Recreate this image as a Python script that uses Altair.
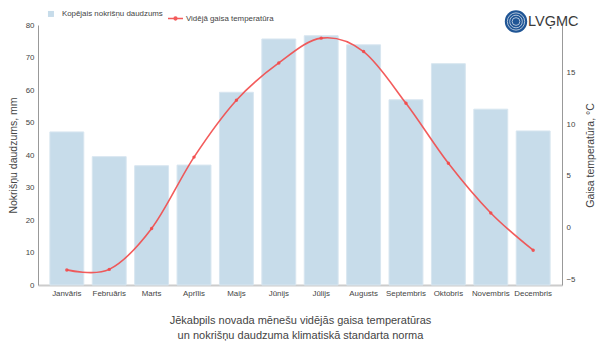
import altair as alt
import pandas as pd

months = ["Janvāris", "Februāris", "Marts", "Aprīlis", "Maijs", "Jūnijs",
          "Jūlijs", "Augusts", "Septembris", "Oktobris", "Novembris", "Decembris"]
precip = [47.1, 39.5, 36.7, 36.9, 59.3, 75.7, 76.7, 73.9, 57.0, 68.1, 54.1, 47.4]
temp = [-4.1, -4.05, -0.1, 6.8, 12.3, 15.9, 18.3, 17.0, 12.0, 6.2, 1.4, -2.2]

bar_name = "Kopējais nokrišņu daudzums"
line_name = "Vidējā gaisa temperatūra"
title_lines = ["Jēkabpils novada mēnešu vidējās gaisa temperatūras",
               "un nokrišņu daudzuma klimatiskā standarta norma"]

df = pd.DataFrame({"month": months, "precip": precip, "temp": temp})

FONT = "Liberation Sans"
TXT = "#444444"
RED = "#f24a4a"
LBL = 7.9

x_enc = alt.X("month:N", sort=months,
              scale=alt.Scale(paddingInner=0.2, paddingOuter=0.28),
              axis=alt.Axis(title=title_lines, labelAngle=0, labelFontSize=LBL, labelFont=FONT,
                            labelColor=TXT, labelPadding=4, ticks=False,
                            domainColor="#cccccc", domainWidth=2,
                            titleFontSize=11, titleFontWeight="normal", titleFont=FONT,
                            titleColor=TXT, titlePadding=18, titleLineHeight=15))

bars = alt.Chart(df).mark_bar(color="#c7dcea", stroke="#d8e6f0", strokeWidth=1).encode(
    x=x_enc,
    y=alt.Y("precip:Q", scale=alt.Scale(domain=[0, 80], nice=False),
            axis=alt.Axis(title="Nokrišņu daudzums, mm", values=[0, 10, 20, 30, 40, 50, 60, 70, 80],
                          grid=False, ticks=False, labelFontSize=LBL, labelColor=TXT, labelFont=FONT,
                          labelPadding=4, domainColor="#999999",
                          titleFontSize=10.5, titleFontWeight="normal", titleColor=TXT, titleFont=FONT,
                          titlePadding=7)),
    fill=alt.Fill("s:N", scale=alt.Scale(domain=[bar_name], range=["#c7dcea"]),
                  legend=alt.Legend(title=None, orient="none", legendX=9, legendY=-15,
                                    symbolType="square", symbolSize=36, symbolStrokeWidth=0,
                                    labelFontSize=LBL, labelColor=TXT, labelOffset=7,
                                    padding=0, labelFont=FONT)),
).transform_calculate(s=f"'{bar_name}'")

right_axis = alt.Axis(title="Gaisa temperatūra, °C", orient="right", values=[-5, 0, 5, 10, 15],
                      grid=False, ticks=False, labelFontSize=LBL, labelColor=TXT, labelFont=FONT,
                      labelPadding=4, domainColor="#999999", titleAngle=270,
                      titleFontSize=10.5, titleFontWeight="normal", titleColor=TXT, titleFont=FONT,
                      titlePadding=21)
t_scale = alt.Scale(domain=[-5.56, 19.57], nice=False, zero=False)

line = alt.Chart(df).mark_line(interpolate="cardinal", strokeWidth=1.6, opacity=0.9).encode(
    x=alt.X("month:N", sort=months),
    y=alt.Y("temp:Q", scale=t_scale, axis=right_axis),
    stroke=alt.Stroke("s:N", scale=alt.Scale(domain=[line_name], range=[RED]),
                      legend=alt.Legend(title=None, orient="none", legendX=129, legendY=-15,
                                        symbolType="M-1,0H1M-0.18,0A0.18,0.18,0,1,1,0.18,0A0.18,0.18,0,1,1,-0.18,0Z",
                                        symbolSize=225, symbolStrokeWidth=1.6,
                                        symbolFillColor=RED,
                                        labelFontSize=LBL, labelColor=TXT, labelOffset=2,
                                        padding=0, labelFont=FONT)),
).transform_calculate(s=f"'{line_name}'")

pts = alt.Chart(df).mark_point(filled=True, size=12, color=RED, opacity=0.9).encode(
    x=alt.X("month:N", sort=months),
    y=alt.Y("temp:Q", scale=t_scale, axis=right_axis),
)

right = alt.layer(line, pts)

logo_df = pd.DataFrame({"k": [0]})
logo_base = alt.Chart(logo_df)
logo_circle = logo_base.mark_point(shape="circle", filled=True, color="#1f5595", size=500, opacity=1).encode(
    x=alt.value(478), y=alt.value(-3.5))
rings = [logo_base.mark_point(shape="circle", filled=False, color="#ffffff", size=s,
                              strokeWidth=0.8, opacity=0.8).encode(x=alt.value(478), y=alt.value(-3.5))
         for s in [300, 160, 60]]
logo_text = logo_base.mark_text(text="LVĢMC", align="left", baseline="middle", fontSize=14.5,
                                font=FONT, color="#3a3a3a", fontWeight="normal").encode(
    x=alt.value(490), y=alt.value(-3.5))

chart = alt.layer(bars, right, logo_circle, *rings, logo_text).resolve_scale(
    y="independent", fill="independent", stroke="independent"
).properties(
    width=524, height=260,
    autosize=alt.AutoSizeParams(type="none"),
    padding={"left": 38, "top": 25, "right": 38, "bottom": 65},
).configure_view(stroke=None)

chart.save("out.html", embed_options={"renderer": "svg", "actions": False})
